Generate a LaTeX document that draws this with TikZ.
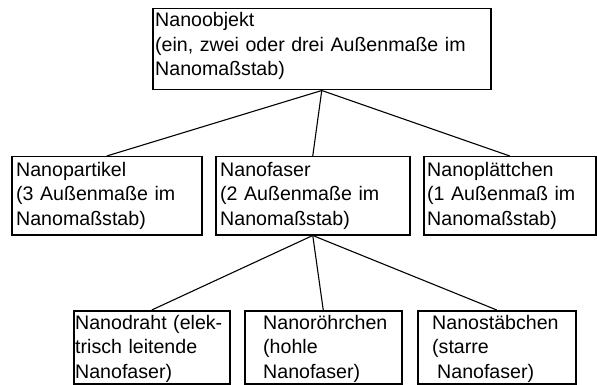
\documentclass[tikz,border=0pt]{standalone}
\usepackage{fontspec}
\setmainfont{Liberation Sans}
\begin{document}
\begin{tikzpicture}[x=1pt,y=-1pt,
  box/.style={draw, line width=1.5pt, rectangle, inner sep=0pt, anchor=north west},
  txt/.style={anchor=base west, inner sep=0pt, text width=340pt, align=left,
    font=\fontsize{19.6}{24.5}\selectfont},
  link/.style={line width=1.1pt}]
\useasboundingbox (0,0) rectangle (597,385);
% boxes
\node[box, minimum width=338pt, minimum height=81pt] (top) at (152,8) {};
\node[box, minimum width=190pt, minimum height=78pt] (np) at (11,156) {};
\node[box, minimum width=194pt, minimum height=78pt] (nf) at (215,156) {};
\node[box, minimum width=172pt, minimum height=78pt] (npl) at (423,156) {};
\node[box, minimum width=156pt, minimum height=73pt] (nd) at (73,310) {};
\node[box, minimum width=157pt, minimum height=73pt] (nr) at (244,310) {};
\node[box, minimum width=158pt, minimum height=73pt] (ns) at (417,310) {};
% texts
\node[txt] (t0) at (155,27) {Nanoobjekt\\(ein, zwei oder drei Außenmaße im\\Nanomaßstab)};
\node[txt] (t1) at (16,176) {Nanopartikel\\(3 Außenmaße im\\Nanomaßstab)};
\node[txt] (t2) at (220,176) {Nanofaser\\(2 Außenmaße im\\Nanomaßstab)};
\node[txt] (t3) at (427,176) {Nanoplättchen\\(1 Außenmaß im\\Nanomaßstab)};
\node[txt] (t4) at (75,329) {Nanodraht (elek-\\trisch leitende\\Nanofaser)};
\node[txt] (t5) at (263,329) {Nanoröhrchen\\(hohle\\Nanofaser)};
\node[txt] (t6) at (432,329) {Nanostäbchen\\(starre\\\hspace*{5pt}Nanofaser)};
% connectors
\draw[link] (top.south) -- (np.north);
\draw[link] (top.south) -- (nf.north);
\draw[link] (top.south) -- (npl.north);
\draw[link] (nf.south) -- (nd.north);
\draw[link] (nf.south) -- (nr.north);
\draw[link] (nf.south) -- (ns.north);
\end{tikzpicture}
\end{document}
